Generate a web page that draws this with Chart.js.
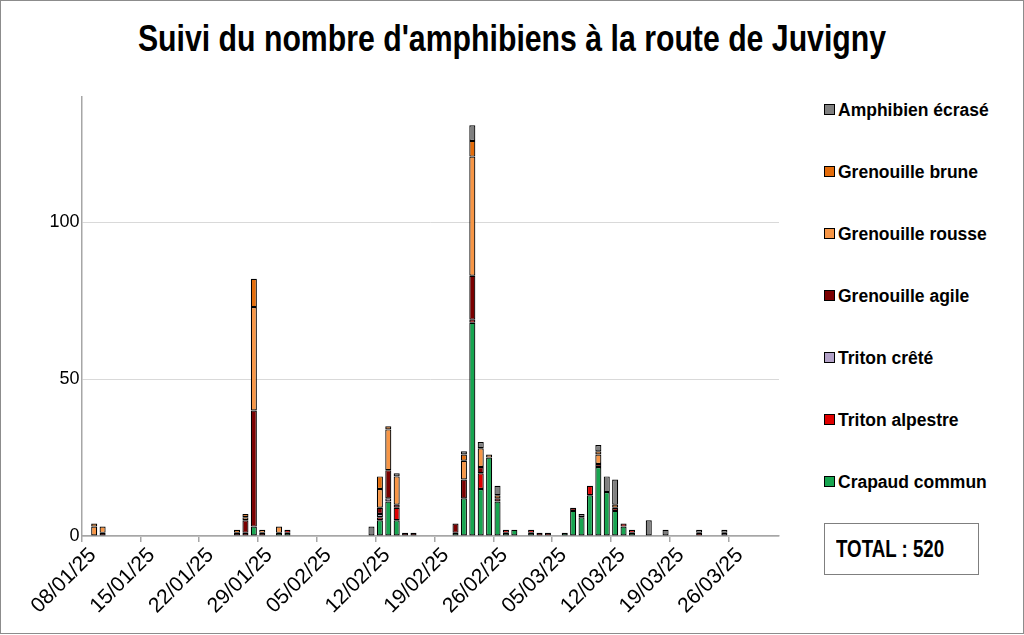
<!DOCTYPE html>
<html>
<head>
<meta charset="utf-8">
<script src="https://cdn.jsdelivr.net/npm/chart.js@4.4.1/dist/chart.umd.min.js"></script>
<style>
  html, body { margin: 0; padding: 0; background: #fff; }
  body { position: relative; width: 1024px; height: 635px; overflow: hidden; font-family: 'Liberation Sans', Arial, sans-serif; }
  #frame { position: absolute; left: 0; top: 0; width: 1024px; height: 634px; box-sizing: border-box; border: 1px solid #8c8c8c; }
  #title { position: absolute; left: 0; top: 19px; width: 1024px; line-height: 40px; text-align: center; font-weight: bold; font-size: 36px; color: #000; white-space: nowrap; transform: scaleX(0.84); transform-origin: 512px 0; }
  #wrap { position: absolute; left: 0; top: 0; width: 800px; height: 635px; }
  .item { position: absolute; left: 824px; height: 20px; line-height: 20px; font-weight: bold; font-size: 17.5px; color: #000; white-space: nowrap; }
  .item i { display: inline-block; width: 9px; height: 9px; border: 1px solid #000; margin-right: 3px; vertical-align: 1px; }
  #total { position: absolute; left: 824px; top: 523px; width: 155px; height: 52px; box-sizing: border-box; border: 1px solid #7f7f7f; }
  #total span { position: absolute; left: 11px; top: 0; line-height: 50px; font-weight: bold; font-size: 24px; white-space: nowrap; transform: scaleX(0.78); transform-origin: 0 0; }
</style>
</head>
<body>
<div id="frame"></div>
<div id="title">Suivi du nombre d'amphibiens à la route de Juvigny</div>
<div id="wrap"><canvas id="chart"></canvas></div>
<div id="legend"></div>
<div id="total"><span>TOTAL : 520</span></div>
<script>
// axe des dates : du 08/01/25 au 31/03/25
const firstDay = '2025-01-08';
const dayCount = 83;

// jours de comptage
const dates = [
  '09/01/25', '10/01/25', '26/01/25', '27/01/25', '28/01/25', '29/01/25', '31/01/25', '01/02/25',
  '11/02/25', '12/02/25', '13/02/25', '14/02/25', '15/02/25', '16/02/25',
  '21/02/25', '22/02/25', '23/02/25', '24/02/25', '25/02/25', '26/02/25', '27/02/25', '28/02/25',
  '02/03/25', '03/03/25', '04/03/25', '06/03/25', '07/03/25', '08/03/25', '09/03/25', '10/03/25',
  '11/03/25', '12/03/25', '13/03/25', '14/03/25', '16/03/25', '18/03/25', '22/03/25', '25/03/25'
];

const crapaudCommun = [0, 0, 0, 0, 3, 0, 1, 1,  0, 5, 11, 5, 0, 0,  1, 12, 68, 15, 25, 11, 1, 2,  1, 0, 0, 1, 8, 6, 13, 22,  14, 8, 3, 1, 0, 0, 0, 0];
const tritonAlpestre = [0, 0, 0, 1, 0, 0, 0, 1,  0, 1, 0, 4, 0, 0,  0, 0, 1, 5, 0, 0, 1, 0,  1, 1, 1, 0, 0, 0, 3, 0,  0, 0, 1, 1, 0, 0, 1, 0];
const tritonCrete = [0, 0, 0, 0, 0, 0, 0, 0,  0, 1, 1, 0, 0, 0,  0, 0, 0, 0, 0, 0, 0, 0,  0, 0, 0, 0, 0, 0, 0, 0,  0, 0, 0, 0, 0, 0, 0, 1];
const grenouilleAgile = [0, 1, 1, 4, 37, 1, 0, 0,  0, 2, 9, 1, 1, 1,  3, 6, 14, 2, 0, 1, 0, 0,  0, 0, 0, 0, 1, 0, 0, 1,  0, 1, 0, 0, 0, 0, 0, 0];
const grenouilleRousse = [3, 2, 0, 1, 33, 1, 2, 0,  0, 6, 13, 9, 0, 0,  0, 6, 38, 6, 1, 0, 0, 0,  0, 0, 0, 0, 0, 0, 0, 3,  0, 0, 0, 0, 0, 0, 0, 0];
const grenouilleBrune = [1, 0, 1, 1, 9, 0, 0, 0,  0, 4, 1, 0, 0, 0,  0, 2, 5, 0, 0, 1, 0, 0,  0, 0, 0, 0, 0, 0, 0, 1,  0, 1, 0, 0, 0, 0, 0, 0];
const amphibienEcrase = [0, 0, 0, 0, 0, 0, 0, 0,  3, 0, 0, 1, 0, 0,  0, 1, 5, 2, 0, 3, 0, 0,  0, 0, 0, 0, 0, 1, 0, 2,  5, 8, 0, 0, 5, 2, 1, 1];

const yTicks = [0, 50, 100];

// de bas en haut dans la pile
const series = [
  { label: 'Crapaud commun', values: crapaudCommun, color: '#17a550' },
  { label: 'Triton alpestre', values: tritonAlpestre, color: '#e00000' },
  { label: 'Triton crêté', values: tritonCrete, color: '#b3a2c7' },
  { label: 'Grenouille agile', values: grenouilleAgile, color: '#7b0000' },
  { label: 'Grenouille rousse', values: grenouilleRousse, color: '#f79646' },
  { label: 'Grenouille brune', values: grenouilleBrune, color: '#e46c0a' },
  { label: 'Amphibien écrasé', values: amphibienEcrase, color: '#808080' }
];

const pad = (n) => String(n).padStart(2, '0');
const labels = [];
const start = new Date(firstDay + 'T00:00:00Z');
for (let i = 0; i < dayCount; i++) {
  const d = new Date(start.getTime() + i * 86400000);
  labels.push(pad(d.getUTCDate()) + '/' + pad(d.getUTCMonth() + 1) + '/' + String(d.getUTCFullYear()).slice(2));
}

const datasets = series.map((s) => ({
  label: s.label,
  data: labels.map((l) => {
    const k = dates.indexOf(l);
    return k < 0 || !s.values[k] ? null : s.values[k];
  }),
  backgroundColor: s.color,
  borderColor: '#000',
  borderWidth: 1.2,
  borderSkipped: false,
  barPercentage: 0.72,
  categoryPercentage: 1
}));

// légende HTML à droite
const legend = document.getElementById('legend');
series.slice().reverse().forEach((s, i) => {
  const el = document.createElement('div');
  el.className = 'item';
  el.style.top = (100 + i * 62) + 'px';
  el.innerHTML = '<i style="background:' + s.color + '"></i>' + s.label;
  legend.appendChild(el);
});

const tickFont = { family: "'Liberation Sans', Arial, sans-serif", size: 18 };

new Chart(document.getElementById('chart'), {
  type: 'bar',
  data: { labels: labels, datasets: datasets },
  options: {
    responsive: true,
    maintainAspectRatio: false,
    animation: false,
    layout: { padding: { top: 97, right: 21, left: 0, bottom: 0 } },
    plugins: {
      legend: { display: false },
      tooltip: { enabled: false }
    },
    scales: {
      x: {
        stacked: true,
        offset: true,
        grid: {
          offset: true,
          drawOnChartArea: false,
          tickLength: 6,
          lineWidth: 1.5,
          color: (ctx) => (ctx.index % 7 === 0 ? '#a6a6a6' : 'rgba(0,0,0,0)')
        },
        border: { color: '#a6a6a6', width: 1.5 },
        ticks: {
          autoSkip: false,
          minRotation: 45,
          maxRotation: 45,
          labelOffset: 7,
          padding: 1,
          color: '#000',
          font: { family: "'Liberation Sans', Arial, sans-serif", size: 21 },
          callback: (v, i) => (i % 7 === 0 ? labels[i] : '')
        },
        afterFit: (s) => { s.height = 99; }
      },
      y: {
        stacked: true,
        min: 0,
        max: 140,
        afterBuildTicks: (s) => { s.ticks = yTicks.map((v) => ({ value: v })); },
        grid: { color: '#d9d9d9', drawTicks: false },
        border: { color: '#a6a6a6', width: 1.5 },
        ticks: { color: '#000', font: tickFont, padding: 2 },
        afterFit: (s) => { s.width = 81.6; }
      }
    }
  }
});
</script>
</body>
</html>
